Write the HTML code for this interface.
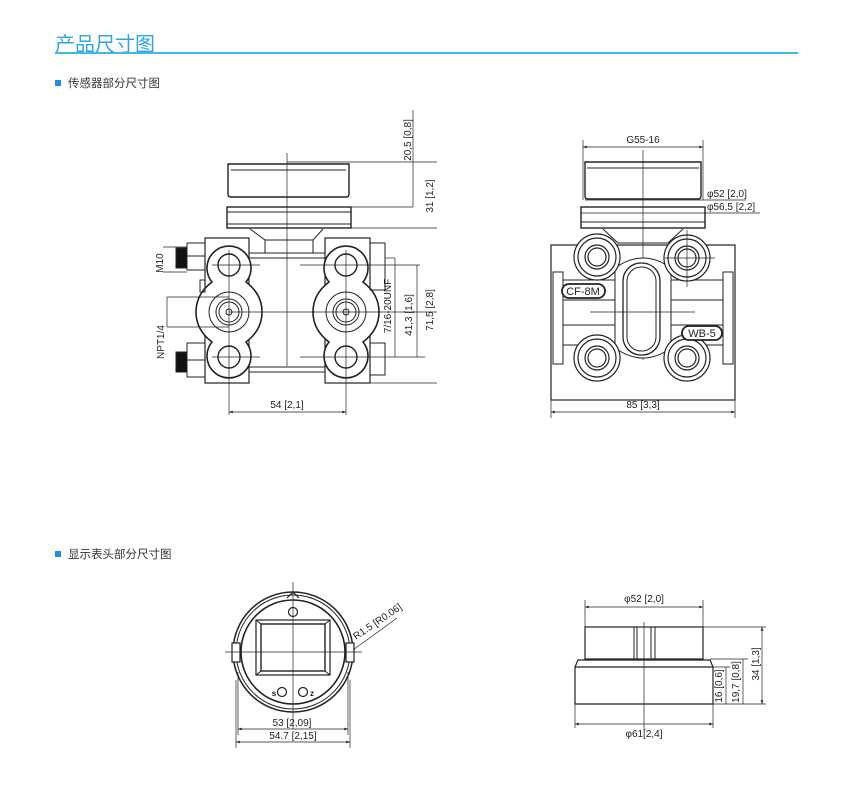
<!DOCTYPE html>
<html><head><meta charset="utf-8"><style>
body{margin:0;background:#fff;width:850px;height:790px;overflow:hidden;font-family:"Liberation Sans","Noto Sans CJK SC",sans-serif;}
.t{position:absolute;left:55px;top:28px;font-size:20px;color:#2ea5df;}
.hl{position:absolute;left:55px;top:52px;width:743px;height:2px;background:#45b4e6;}
.s{position:absolute;left:55px;font-size:11.5px;color:#333;}
.s i{display:inline-block;width:6px;height:6px;background:#1f8fd0;margin-right:7px;vertical-align:1px;}
svg{position:absolute;left:0;top:0;}
svg text{font-family:"Liberation Sans Narrow","Liberation Sans",sans-serif;font-size:10px;fill:#222;}
</style></head><body>
<div class="t">产品尺寸图</div>
<div class="hl"></div>
<div class="s" style="top:75px"><i></i>传感器部分尺寸图</div>
<div class="s" style="top:546px"><i></i>显示表头部分尺寸图</div>
<svg width="850" height="790" viewBox="0 0 850 790" fill="none" stroke="#222" stroke-width="1">
<defs><marker id="a" viewBox="0 0 8 6" refX="8" refY="3" markerWidth="6" markerHeight="4" orient="auto-start-reverse"><path d="M0 0L8 3L0 6z" fill="#222" stroke="none"/></marker></defs>
<!-- ===== Left sensor view ===== -->
<path d="M228 164h121v30q0 3-3 3h-115q-3 0-3-3z" stroke-width="1.4"/>
<line x1="231" y1="170" x2="346" y2="170"/>
<rect x="227" y="207" width="124" height="21" stroke-width="1.4"/>
<line x1="227" y1="212" x2="351" y2="212"/><line x1="227" y1="224" x2="351" y2="224"/>
<path d="M250 229l15 11h48l10-11" /><rect x="265" y="240" width="48" height="13"/>
<line x1="287" y1="153" x2="287" y2="366" stroke-width="0.7"/>
<rect x="205" y="238" width="44" height="145" stroke-width="1.2"/>
<rect x="325" y="238" width="45" height="145" stroke-width="1.2"/>
<line x1="249" y1="253" x2="325" y2="253"/><line x1="249" y1="372" x2="325" y2="372"/>
<line x1="249" y1="258" x2="325" y2="258"/><line x1="249" y1="367" x2="325" y2="367"/>
<g id="lobe">
<path d="M212 282a22 22 0 1 1 34 0q16 12 16 30t-16 30a22 22 0 1 1-34 0q-16-12-16-30t16-30z" fill="#fff" stroke-width="1.6"/>
<circle cx="229" cy="265" r="11" stroke-width="1.4"/><circle cx="229" cy="357" r="11" stroke-width="1.4"/>
<circle cx="229" cy="312" r="20"/><circle cx="229" cy="312" r="13"/><circle cx="229" cy="312" r="10"/><circle cx="229" cy="312" r="3"/>
</g>
<use href="#lobe" transform="translate(117 0)"/>
<line x1="229" y1="250" x2="229" y2="415" stroke-width="0.7"/><line x1="346" y1="250" x2="346" y2="415" stroke-width="0.7"/>
<line x1="212" y1="265" x2="260" y2="265" stroke-width="0.7"/><line x1="212" y1="357" x2="260" y2="357" stroke-width="0.7"/>
<line x1="229" y1="312" x2="437" y2="312" stroke-width="0.7"/>
<line x1="300" y1="265" x2="400" y2="265" stroke-width="0.7"/><line x1="300" y1="357" x2="425" y2="357" stroke-width="0.7"/>
<!-- nuts and fittings -->
<rect x="187" y="243" width="18" height="27"/><line x1="187" y1="256" x2="205" y2="256"/>
<rect x="176" y="248" width="11" height="20" fill="#111"/>
<rect x="187" y="343" width="18" height="34"/><line x1="187" y1="360" x2="205" y2="360"/>
<rect x="176" y="352" width="11" height="20" fill="#111"/>
<rect x="370" y="243" width="15" height="47"/><rect x="370" y="343" width="15" height="32"/>
<rect x="200" y="280" width="5" height="12"/>
<!-- left dims -->
<line x1="163" y1="247" x2="187" y2="247" stroke-width="0.7"/><line x1="163" y1="272" x2="187" y2="272" stroke-width="0.7"/>
<line x1="167" y1="297" x2="229" y2="297" stroke-width="0.7"/><line x1="167" y1="327" x2="229" y2="327" stroke-width="0.7"/>
<line x1="167" y1="297" x2="167" y2="327" stroke-width="0.7"/>
<text transform="translate(163 263) rotate(-90)" text-anchor="middle" stroke="none">M10</text>
<text transform="translate(164 342) rotate(-90)" text-anchor="middle" stroke="none">NPT1/4</text>
<!-- right dims -->
<line x1="413" y1="110" x2="413" y2="207" stroke-width="0.7"/>
<line x1="287" y1="162" x2="437" y2="162" stroke-width="0.7"/>
<line x1="351" y1="207" x2="413" y2="207" stroke-width="0.7"/>
<line x1="351" y1="228" x2="437" y2="228" stroke-width="0.7"/>
<line x1="370" y1="383" x2="437" y2="383" stroke-width="0.7"/>
<text transform="translate(411 140) rotate(-90)" text-anchor="middle" stroke="none">20,5 [0,8]</text>
<text transform="translate(433 196) rotate(-90)" text-anchor="middle" stroke="none">31 [1,2]</text>
<line x1="385" y1="258" x2="395" y2="258" stroke-width="0.7"/><line x1="395" y1="258" x2="395" y2="357" stroke-width="0.7"/>
<line x1="417" y1="265" x2="417" y2="357" stroke-width="0.7"/><line x1="400" y1="265" x2="420" y2="265" stroke-width="0.7"/>
<text transform="translate(391 306) rotate(-90)" text-anchor="middle" stroke="none">7/16-20UNF</text>
<text transform="translate(412 315) rotate(-90)" text-anchor="middle" stroke="none">41,3 [1,6]</text>
<text transform="translate(433 310) rotate(-90)" text-anchor="middle" stroke="none">71,5 [2,8]</text>
<line x1="229" y1="412" x2="346" y2="412" stroke-width="0.7" marker-start="url(#a)" marker-end="url(#a)"/>
<text x="287" y="408" text-anchor="middle" stroke="none">54 [2,1]</text>
<!-- ===== Right sensor view ===== -->
<line x1="583" y1="147" x2="703" y2="147" stroke-width="0.7" marker-start="url(#a)" marker-end="url(#a)"/>
<line x1="583" y1="140" x2="583" y2="200" stroke-width="0.7"/><line x1="703" y1="140" x2="703" y2="200" stroke-width="0.7"/>
<text x="643" y="143" text-anchor="middle" stroke="none">G55-16</text>
<path d="M585 162h116v34q0 3-3 3h-110q-3 0-3-3z" stroke-width="1.4"/>
<line x1="587" y1="168" x2="699" y2="168"/>
<line x1="585" y1="200" x2="746" y2="200" stroke-width="0.7"/>
<text x="707" y="197" stroke="none">φ52 [2,0]</text>
<rect x="581" y="207" width="124" height="21" stroke-width="1.4"/>
<line x1="581" y1="213" x2="760" y2="213" stroke-width="0.7"/>
<text x="707" y="210" stroke="none">φ56,5 [2,2]</text>
<line x1="581" y1="222" x2="705" y2="222"/>
<path d="M603 229l15 14h50l15-14"/>
<line x1="643" y1="150" x2="643" y2="360" stroke-width="0.7"/>
<rect x="551" y="245" width="184" height="155" stroke-width="1.2"/>
<rect x="553" y="272" width="10" height="92"/><rect x="723" y="272" width="10" height="92"/>
<line x1="563" y1="280" x2="723" y2="280"/><line x1="563" y1="300" x2="723" y2="300"/>
<line x1="563" y1="325" x2="723" y2="325"/><line x1="563" y1="345" x2="723" y2="345"/>
<path d="M615 268q28-20 56 0v80q-28 20-56 0z" fill="#fff"/>
<rect x="623" y="263" width="37" height="92" rx="18" fill="#fff" stroke-width="1.3"/>
<rect x="627" y="267" width="29" height="84" rx="14"/>
<g fill="#fff" stroke-width="1.2">
<circle cx="597" cy="257" r="23"/><circle cx="597" cy="257" r="19"/><circle cx="597" cy="257" r="12"/><circle cx="597" cy="257" r="9"/>
<circle cx="687" cy="258" r="23"/><circle cx="687" cy="258" r="19"/><circle cx="687" cy="258" r="12"/><circle cx="687" cy="258" r="9"/>
<circle cx="597" cy="358" r="23"/><circle cx="597" cy="358" r="19"/><circle cx="597" cy="358" r="12"/><circle cx="597" cy="358" r="9"/>
<circle cx="687" cy="358" r="23"/><circle cx="687" cy="358" r="19"/><circle cx="687" cy="358" r="12"/><circle cx="687" cy="358" r="9"/>
</g>
<line x1="665" y1="258" x2="715" y2="258" stroke-width="0.7"/><line x1="687" y1="230" x2="687" y2="287" stroke-width="0.7"/>
<line x1="590" y1="312" x2="695" y2="312" stroke-width="0.7"/>
<rect x="562" y="284" width="43" height="14" rx="7" fill="#fff" stroke-width="1.8"/>
<text x="583" y="295" text-anchor="middle" stroke="none" style="font-size:11px">CF-8M</text>
<rect x="682" y="326" width="40" height="14" rx="7" fill="#fff" stroke-width="1.8"/>
<text x="702" y="337" text-anchor="middle" stroke="none" style="font-size:11px">WB-5</text>
<line x1="551" y1="400" x2="551" y2="418" stroke-width="0.7"/><line x1="735" y1="400" x2="735" y2="418" stroke-width="0.7"/>
<line x1="551" y1="412" x2="735" y2="412" stroke-width="0.7" marker-start="url(#a)" marker-end="url(#a)"/>
<text x="643" y="408" text-anchor="middle" stroke="none">85 [3,3]</text>
<!-- ===== Display head front ===== -->
<circle cx="293" cy="652" r="60" stroke-width="1.5"/>
<circle cx="293" cy="652" r="57"/>
<circle cx="293" cy="652" r="52" stroke-width="1.6"/>
<rect x="256" y="620" width="74" height="55" stroke-width="1.2"/>
<rect x="261" y="624" width="64" height="47" stroke-width="1.4"/>
<line x1="256" y1="620" x2="261" y2="624"/><line x1="330" y1="620" x2="325" y2="624"/><line x1="256" y1="675" x2="261" y2="671"/><line x1="330" y1="675" x2="325" y2="671"/>
<circle cx="293" cy="612" r="4.5" stroke-width="1.2"/>
<path d="M287 598l6-6 6 6" stroke-width="1.2"/>
<circle cx="282" cy="692" r="4.5" stroke-width="1.2"/><circle cx="303" cy="692" r="4.5" stroke-width="1.2"/>
<text x="274" y="696" text-anchor="middle" stroke="none" style="font-size:8px;font-weight:bold">s</text>
<text x="312" y="696" text-anchor="middle" stroke="none" style="font-size:8px;font-weight:bold">z</text>
<rect x="232" y="643" width="8" height="19" fill="#fff" stroke-width="1.2"/><rect x="346" y="643" width="8" height="19" fill="#fff" stroke-width="1.2"/>
<line x1="225" y1="652" x2="362" y2="652" stroke-width="0.7"/>
<line x1="293" y1="582" x2="293" y2="729" stroke-width="0.7"/>
<line x1="353" y1="650" x2="397" y2="618" stroke-width="0.7"/>
<text transform="translate(356 640) rotate(-34)" stroke="none">R1.5 [R0.06]</text>
<line x1="238" y1="672" x2="238" y2="735" stroke-width="0.7"/><line x1="348" y1="672" x2="348" y2="735" stroke-width="0.7"/>
<line x1="236" y1="680" x2="236" y2="748" stroke-width="0.7"/><line x1="350" y1="680" x2="350" y2="748" stroke-width="0.7"/>
<line x1="238" y1="729" x2="348" y2="729" stroke-width="0.7" marker-start="url(#a)" marker-end="url(#a)"/>
<line x1="236" y1="742" x2="350" y2="742" stroke-width="0.7" marker-start="url(#a)" marker-end="url(#a)"/>
<text x="292" y="726" text-anchor="middle" stroke="none">53 [2,09]</text>
<text x="293" y="739" text-anchor="middle" stroke="none">54.7 [2,15]</text>
<!-- ===== Display head side ===== -->
<line x1="585" y1="600" x2="585" y2="627" stroke-width="0.7"/><line x1="703" y1="600" x2="703" y2="627" stroke-width="0.7"/>
<line x1="585" y1="607" x2="703" y2="607" stroke-width="0.7" marker-start="url(#a)" marker-end="url(#a)"/>
<text x="644" y="602" text-anchor="middle" stroke="none">φ52 [2,0]</text>
<rect x="585" y="627" width="118" height="32" stroke-width="1.2"/>
<line x1="634" y1="627" x2="634" y2="659"/><line x1="637" y1="627" x2="637" y2="659"/><line x1="651" y1="627" x2="651" y2="659"/><line x1="655" y1="627" x2="655" y2="659"/>
<path d="M575 667l3-7h132l3 7v37h-138z" stroke-width="1.2"/>
<line x1="575" y1="667" x2="713" y2="667" stroke-width="1.2"/>
<line x1="644" y1="622" x2="644" y2="730" stroke-width="0.7"/>
<line x1="575" y1="704" x2="575" y2="728" stroke-width="0.7"/><line x1="713" y1="704" x2="713" y2="728" stroke-width="0.7"/>
<line x1="575" y1="724" x2="713" y2="724" stroke-width="0.7" marker-start="url(#a)" marker-end="url(#a)"/>
<text x="644" y="737" text-anchor="middle" stroke="none">φ61[2,4]</text>
<line x1="703" y1="627" x2="766" y2="627" stroke-width="0.7"/>
<line x1="710" y1="659" x2="748" y2="659" stroke-width="0.7"/>
<line x1="713" y1="667" x2="730" y2="667" stroke-width="0.7"/>
<line x1="713" y1="704" x2="766" y2="704" stroke-width="0.7"/>
<line x1="726" y1="667" x2="726" y2="704" stroke-width="0.7"/>
<line x1="743" y1="659" x2="743" y2="704" stroke-width="0.7"/>
<line x1="762" y1="627" x2="762" y2="704" stroke-width="0.7" marker-start="url(#a)" marker-end="url(#a)"/>
<text transform="translate(722 686) rotate(-90)" text-anchor="middle" stroke="none">16 [0,6]</text>
<text transform="translate(739 682) rotate(-90)" text-anchor="middle" stroke="none">19,7 [0,8]</text>
<text transform="translate(759 664) rotate(-90)" text-anchor="middle" stroke="none">34 [1,3]</text>
</svg>
</body></html>
